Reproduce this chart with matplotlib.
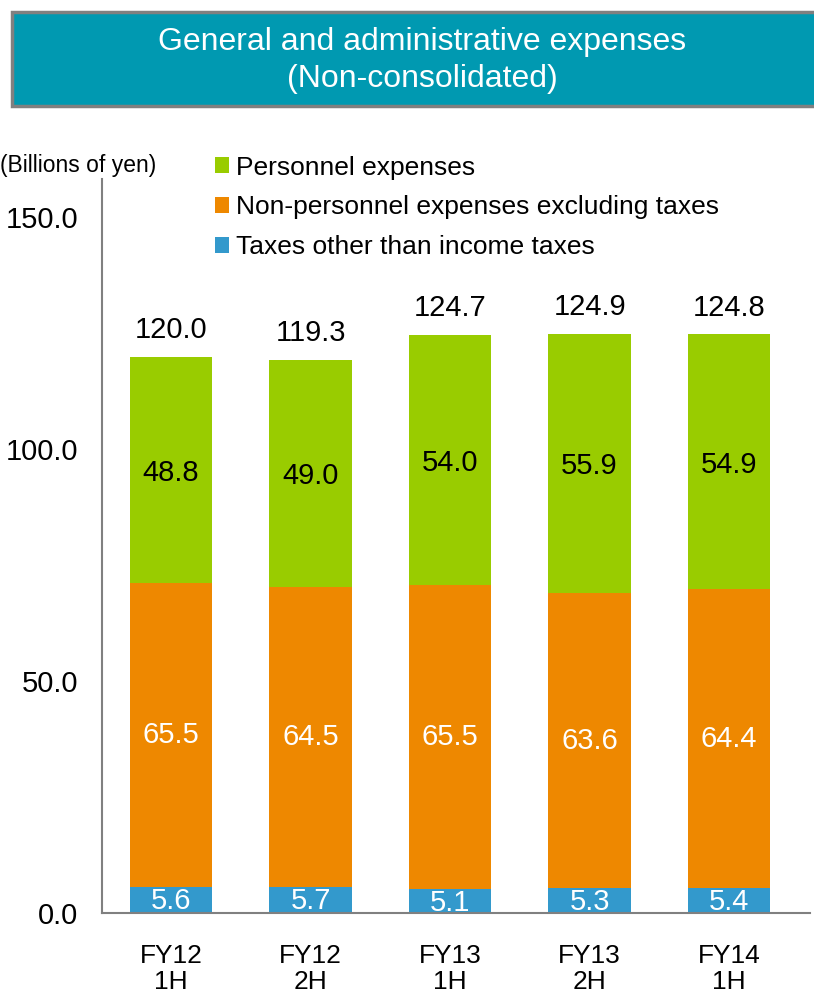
import matplotlib
matplotlib.use("Agg")
import matplotlib.pyplot as plt
from matplotlib.patches import Rectangle

periods = ["FY12\n1H", "FY12\n2H", "FY13\n1H", "FY13\n2H", "FY14\n1H"]
taxes = [5.6, 5.7, 5.1, 5.3, 5.4]
non_personnel = [65.5, 64.5, 65.5, 63.6, 64.4]
personnel = [48.8, 49.0, 54.0, 55.9, 54.9]
totals = [120.0, 119.3, 124.7, 124.9, 124.8]
yticks = [0, 50, 100, 150]

GREEN = "#99CC00"
ORANGE = "#EE8800"
BLUE = "#3399CC"
TEAL = "#0099B1"

plt.rcParams['font.family'] = ['Liberation Sans', 'DejaVu Sans']

fig = plt.figure(figsize=(8.14, 9.93), dpi=100)

# title box
fig.patches.append(Rectangle((12 / 814, 1 - 106 / 993), 820 / 814, 94 / 993,
                             transform=fig.transFigure, facecolor=TEAL,
                             edgecolor="#808080", linewidth=2.5))
fig.text(422 / 814, 1 - 42 / 993, "General and administrative expenses",
         ha="center", va="center", color="white", fontsize=23)
fig.text(422 / 814, 1 - 79 / 993, "(Non-consolidated)",
         ha="center", va="center", color="white", fontsize=23)

ax = fig.add_axes([102 / 814, 1 - 913 / 993, 708 / 814, (913 - 179) / 993])
x = list(range(len(periods)))
w = 0.59
base2 = taxes
base3 = [a + b for a, b in zip(taxes, non_personnel)]
ax.bar(x, taxes, w, color=BLUE, label="Taxes other than income taxes")
ax.bar(x, non_personnel, w, bottom=base2, color=ORANGE,
       label="Non-personnel expenses excluding taxes")
ax.bar(x, personnel, w, bottom=base3, color=GREEN, label="Personnel expenses")

for i in x:
    ax.text(i, taxes[i] / 2 - 0.3, f"{taxes[i]:.1f}", ha="center", va="center",
            color="white", fontsize=21)
    ax.text(i, base2[i] + non_personnel[i] / 2, f"{non_personnel[i]:.1f}",
            ha="center", va="center", color="white", fontsize=21)
    ax.text(i, base3[i] + personnel[i] / 2 - 0.6, f"{personnel[i]:.1f}",
            ha="center", va="center", color="black", fontsize=21)
    ax.text(i, totals[i] + 2.6, f"{totals[i]:.1f}", ha="center", va="bottom",
            color="black", fontsize=21)

ax.set_xlim(-0.495, 4.58)
ax.set_ylim(0, 158.2)
ax.set_yticks(yticks)
ax.set_yticklabels([f"{v:.1f}" for v in yticks], fontsize=21)
ax.set_xticks(x)
ax.set_xticklabels(periods, fontsize=19, linespacing=1.15)
ax.tick_params(axis="y", length=0, pad=17)
ax.tick_params(axis="x", length=0, pad=22)
for s in ["top", "right"]:
    ax.spines[s].set_visible(False)
for s in ["left", "bottom"]:
    ax.spines[s].set_color("#808080")
    ax.spines[s].set_linewidth(1.5)

fig.text(0.0, 1 - 165 / 993, "(Billions of yen)", ha="left", va="center", fontsize=16.5)

handles, labels = ax.get_legend_handles_labels()
ax.legend(handles[::-1], labels[::-1], loc="upper left",
          bbox_to_anchor=(204 / 814, 1 - 145 / 993), bbox_transform=fig.transFigure,
          frameon=False, fontsize=19, handlelength=0.55, handleheight=0.55,
          handletextpad=0.25, labelspacing=0.6, borderaxespad=0)

fig.savefig("out.png", dpi=100)
